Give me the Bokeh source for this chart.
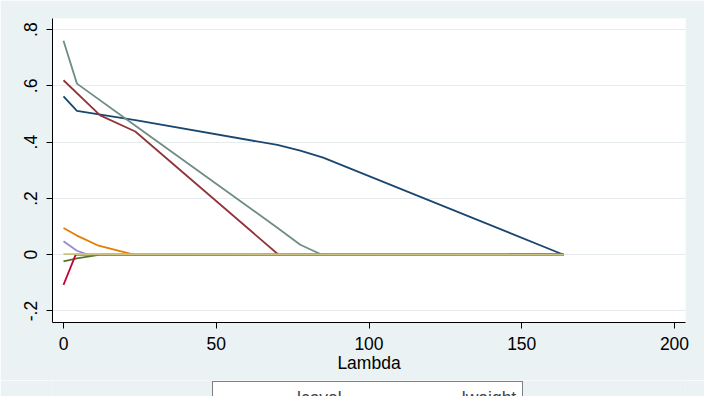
from bokeh.plotting import figure
from bokeh.models import FixedTicker, Range1d, Legend, LegendItem
from bokeh.layouts import column
from bokeh.embed import file_html
from bokeh.resources import INLINE

# ---- data ----
series_names = ["lcavol", "lweight", "age", "lbph", "svi", "lcp", "gleason", "pgg45"]
series_colors = ["#1A476F", "#90353B", "#55752F", "#E37E00", "#6E8E84", "#C10534", "#938DD2", "#CAC27E"]

lam_lcavol = [0, 4.4, 24, 70, 77.5, 85, 163.7]
val_lcavol = [0.563, 0.511, 0.477, 0.390, 0.370, 0.345, 0.0]

lam_lweight = [0, 12, 23.5, 70.4, 163.7]
val_lweight = [0.62, 0.495, 0.438, 0.0, 0.0]

lam_age = [0, 4.4, 12, 163.7]
val_age = [-0.024, -0.013, 0.0, 0.0]

lam_lbph = [0, 4.4, 11.5, 23, 163.7]
val_lbph = [0.095, 0.068, 0.032, 0.0, 0.0]

lam_svi = [0, 4.4, 24, 70, 77.5, 84.6, 163.7]
val_svi = [0.76, 0.608, 0.455, 0.096, 0.0355, 0.0, 0.0]

lam_lcp = [0, 4.0, 163.7]
val_lcp = [-0.107, 0.0, 0.0]

lam_gleason = [0, 4.4, 8, 163.7]
val_gleason = [0.048, 0.014, 0.0, 0.0]

lam_pgg45 = [0, 163.7]
val_pgg45 = [0.002, 0.0]

x_ticks = [0, 50, 100, 150, 200]
y_ticks = [-0.2, 0, 0.2, 0.4, 0.6, 0.8]
y_tick_labels = ["-.2", "0", ".2", ".4", ".6", ".8"]
x_label = "Lambda"
visible_legend = 2  # only the first legend row shows in the reference

lams = [lam_lcavol, lam_lweight, lam_age, lam_lbph, lam_svi, lam_lcp, lam_gleason, lam_pgg45]
vals = [val_lcavol, val_lweight, val_age, val_lbph, val_svi, val_lcp, val_gleason, val_pgg45]

# ---- main figure ----
BG = "#EAF2F3"
FONT = "Liberation Sans"
FS = "17.5px"

p = figure(width=704, height=380, output_backend="svg", toolbar_location=None,
           x_range=Range1d(-3.6, 203.6), y_range=Range1d(-0.2409, 0.8394),
           min_border_left=52, min_border_right=19, min_border_top=18, min_border_bottom=58)
p.background_fill_color = "white"
p.border_fill_color = BG
p.outline_line_color = None

for lam, v, c in zip(lams, vals, series_colors):
    p.line(lam, v, line_color=c, line_width=1.8)

for ax in (p.xaxis[0], p.yaxis[0]):
    ax.axis_line_color = "black"
    ax.axis_line_width = 1
    ax.major_tick_line_color = "black"
    ax.major_tick_out = 6
    ax.major_tick_in = 0
    ax.minor_tick_line_color = None
    ax.major_label_text_font = FONT
    ax.major_label_text_font_size = FS
    ax.major_label_text_color = "black"

p.xaxis.major_label_standoff = 8
p.yaxis.major_label_standoff = 9
p.xaxis.ticker = FixedTicker(ticks=x_ticks)
p.yaxis.ticker = FixedTicker(ticks=y_ticks)
p.yaxis.major_label_overrides = {t: s for t, s in zip(y_ticks, y_tick_labels)}
p.yaxis.major_label_orientation = "vertical"
p.xaxis.axis_label = x_label
p.xaxis.axis_label_text_font = FONT
p.xaxis.axis_label_text_font_size = FS
p.xaxis.axis_label_text_font_style = "normal"
p.xaxis.axis_label_text_color = "black"
p.xaxis.axis_label_standoff = 0

p.xgrid.grid_line_color = None
p.ygrid.grid_line_color = "#E6ECEE"
p.ygrid.grid_line_width = 1

# ---- legend strip (only its top shows, as in the reference) ----
leg = figure(width=704, height=16, output_backend="svg", toolbar_location=None,
             x_axis_type=None, y_axis_type=None,
             min_border_left=0, min_border_right=0, min_border_top=0, min_border_bottom=0)
leg.background_fill_color = BG
leg.border_fill_color = BG
leg.outline_line_color = None
leg.grid.grid_line_color = None

leg_renderers = [leg.line(x=[], y=[], line_color=c, line_width=4, line_alpha=0.45)
                 for c in series_colors[:visible_legend]]
items = [LegendItem(label=n, renderers=[r])
         for n, r in zip(series_names[:visible_legend], leg_renderers)]
legend = Legend(items=items, orientation="horizontal",
                location=(160, -20),
                glyph_width=67, glyph_height=20, label_standoff=11,
                spacing=42, padding=6, margin=0,
                label_text_font=FONT, label_text_font_size=FS,
                border_line_color="black", border_line_width=1.5,
                background_fill_color="white", background_fill_alpha=1)
leg.add_layout(legend, "center")

layout = column(p, leg, spacing=0)
open("out.html", "w").write(file_html(layout, INLINE))
